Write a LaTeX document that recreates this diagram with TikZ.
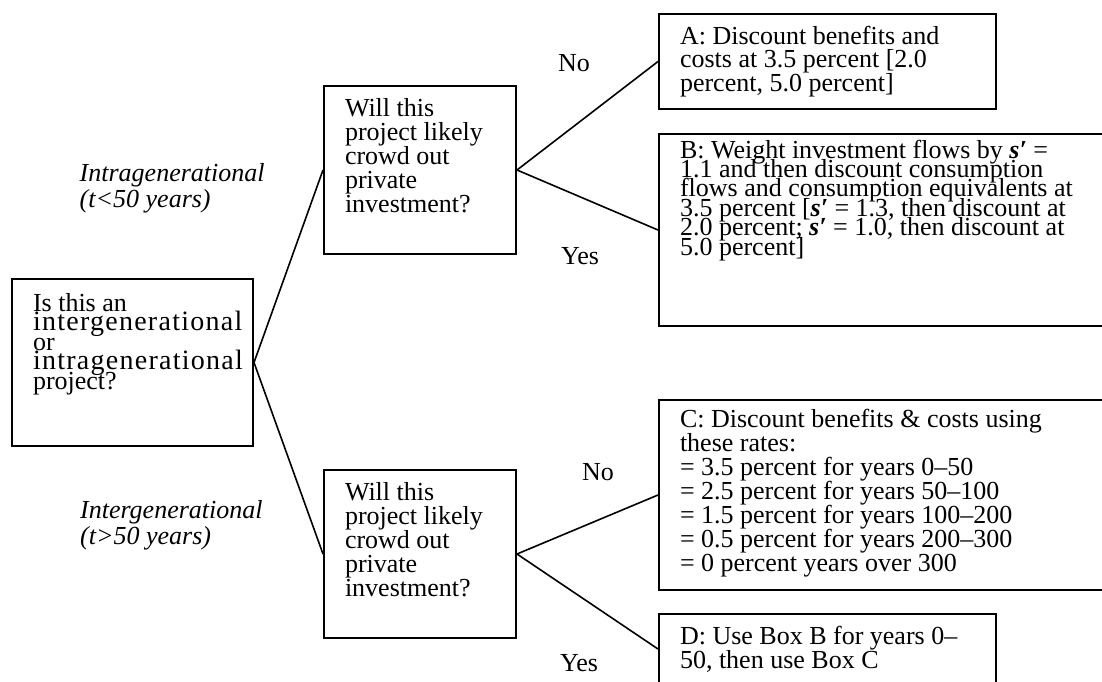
\documentclass[tikz,border=0pt]{standalone}
\usepackage{fontspec}
\setmainfont{Liberation Serif}
\pgfdeclarelayer{edgelayer}
\pgfdeclarelayer{nodelayer}
\pgfsetlayers{edgelayer,nodelayer,main}
\tikzstyle{none}=[inner sep=0pt]
\tikzstyle{box}=[draw, line width=1pt, anchor=north west, inner xsep=10.5pt, inner ysep=0pt]
\tikzstyle{branch}=[inner sep=0pt, align=left, font=\fontsize{13}{10.5}\selectfont\itshape]
\tikzstyle{answer}=[inner sep=0pt, font=\fontsize{13}{13}\selectfont]
\tikzstyle{link}=[line width=0.8pt]
% height, width, leading, first baseline, text
\newcommand{\boxtext}[5]{\parbox[c][#1][t]{#2}{\raggedright\fontsize{13}{#3}\selectfont\lineskiplimit=-100pt\rule{0pt}{#4}#5}}
\newcommand{\sprime}{\textbf{\textit{s\char"2032}}}
\newcommand{\wideword}[1]{{\fontsize{14}{9.75}\selectfont\addfontfeatures{LetterSpace=4.5}#1}}

\begin{document}
\begin{tikzpicture}[x=0.5pt, y=-0.5pt]
	\useasboundingbox (0, 0) rectangle (1102, 681);
	\begin{pgfonlayer}{nodelayer}
		\node [style=box] (0) at (11, 278) {\boxtext{83.5pt}{99.5pt}{9.75pt}{16pt}{Is this an\\\wideword{intergenerational}\\or\\\wideword{intragenerational}\\project?}};
		\node [style=box] (1) at (323, 85) {\boxtext{84pt}{75pt}{12pt}{15pt}{Will this\\project likely\\crowd out\\private\\investment?}};
		\node [style=box] (2) at (323, 469) {\boxtext{84pt}{75pt}{12pt}{15pt}{Will this\\project likely\\crowd out\\private\\investment?}};
		\node [style=box] (3) at (658, 13) {\boxtext{47.5pt}{147.5pt}{11.75pt}{15pt}{A: Discount benefits and\\costs at 3.5 percent [2.0\\percent, 5.0 percent]}};
		\node [style=box] (4) at (658, 133) {\boxtext{96pt}{205pt}{9.7pt}{12pt}{B: Weight investment flows by \sprime{} =\\1.1 and then discount consumption\\flows and consumption equivalents at\\3.5 percent [\sprime{} = 1.3, then discount at\\2.0 percent; \sprime{} = 1.0, then discount at\\5.0 percent]}};
		\node [style=box] (5) at (658, 399) {\boxtext{95pt}{205pt}{12pt}{13.5pt}{C: Discount benefits \& costs using\\these rates:\\= 3.5 percent for years 0--50\\= 2.5 percent for years 50--100\\= 1.5 percent for years 100--200\\= 0.5 percent for years 200--300\\= 0 percent years over 300}};
		\node [style=box] (6) at (658, 613) {\boxtext{35pt}{147.5pt}{12pt}{15pt}{D: Use Box B for years 0--\\50, then use Box C}};
		\node [style=branch, anchor=east] (7) at (265, 188) {Intragenerational\\(t<50 years)};
		\node [style=branch, anchor=east] (8) at (263, 525) {Intergenerational\\(t>50 years)};
		\node [style=answer] (9) at (574, 63) {No};
		\node [style=answer] (10) at (580, 256) {Yes};
		\node [style=answer] (11) at (598, 472) {No};
		\node [style=answer] (12) at (579, 663) {Yes};
	\end{pgfonlayer}
	\begin{pgfonlayer}{edgelayer}
		\draw [style=link] (0.east) to (1.west);
		\draw [style=link] (0.east) to (2.west);
		\draw [style=link] (1.east) to (3.west);
		\draw [style=link] (1.east) to (4.west);
		\draw [style=link] (2.east) to (5.west);
		\draw [style=link] (2.east) to (6.west);
	\end{pgfonlayer}
\end{tikzpicture}
\end{document}
